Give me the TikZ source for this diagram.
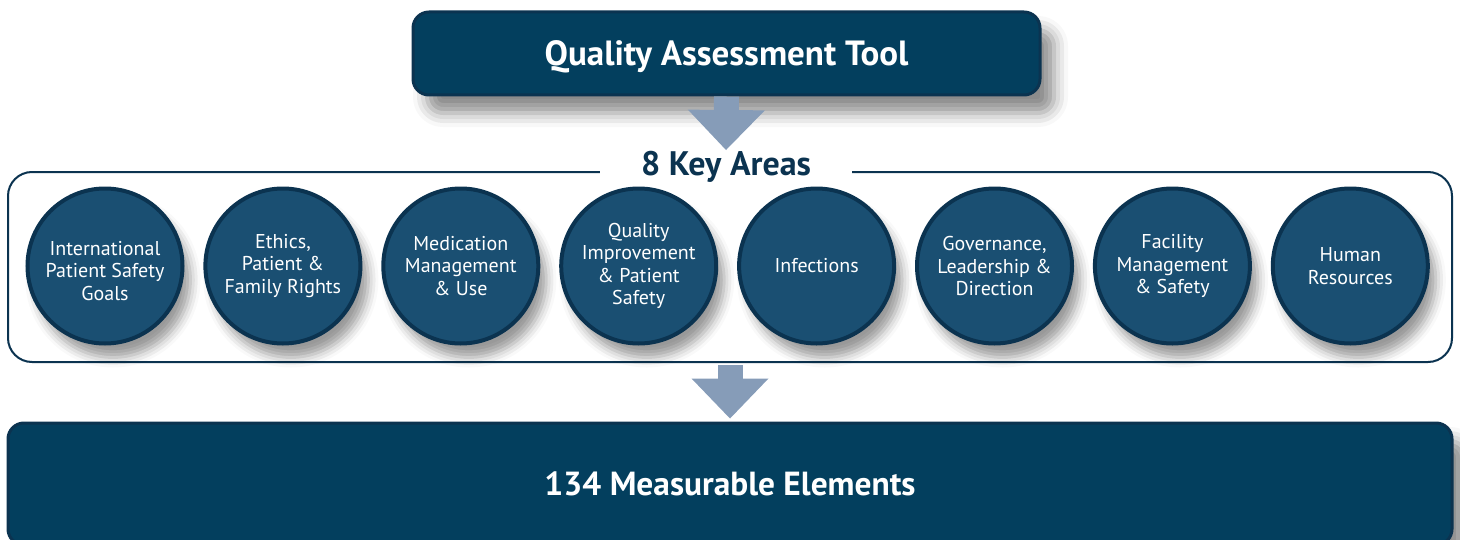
\documentclass[tikz,border=0pt]{standalone}
\usepackage{fontspec}
\setmainfont{PT Sans}
\usetikzlibrary{arrows.meta,shadows.blur}
\definecolor{bleufonce}{HTML}{033F5E}
\definecolor{bleudisque}{HTML}{1A4F72}
\definecolor{bleutrait}{HTML}{0B3350}
\definecolor{bleufleche}{HTML}{869CB8}
% Abaisse un texte dans son noeud
\newcommand\abaisse[2]{\raisebox{-#1}[\dimexpr\height+#1\relax][\dimexpr\depth+#1\relax]{#2}}
\begin{document}
\begin{tikzpicture}[x=0.5pt,y=-0.5pt]
% Styles
\tikzstyle{boite}=[draw=bleutrait,line width=1.5pt,fill=bleufonce,rounded corners=8pt,text=white,font=\bfseries\fontsize{16.7}{18}\selectfont,blur shadow={shadow xshift=7pt,shadow yshift=-9pt,shadow blur radius=7pt,shadow opacity=45}]
\tikzstyle{cadre}=[draw=bleutrait,line width=1pt,rounded corners=12pt]
\tikzstyle{disque}=[circle,draw=bleutrait,line width=2pt,fill=bleudisque,minimum size=77.5pt,inner sep=0pt,text=white,align=center,font=\fontsize{10}{11.25}\selectfont,blur shadow={shadow xshift=4pt,shadow yshift=-7pt,shadow blur radius=5pt,shadow opacity=40}]
\tikzstyle{titre}=[fill=white,minimum width=126pt,text=bleutrait,font=\bfseries\fontsize{17}{19}\selectfont]
\tikzstyle{fleche}=[draw=bleufleche,line width=12.5pt,-{Triangle[width=38.5pt,length=20pt,line width=0pt]}]
% Dimensions
\def\Pas{177.9}
\def\Gauche{105}
\def\Yc{266}
\useasboundingbox (0,0) rectangle (1460,540);
% Boite du haut
\node[boite,minimum width=313.5pt,minimum height=41.5pt,font=\bfseries\fontsize{17.5}{19}\selectfont] (outil) at (726.5,53.5) {\abaisse{1.5pt}{Quality Assessment Tool}};
% Encadrement des domaines
\node[cadre,minimum width=722pt,minimum height=95pt] (domaines) at (730,267) {};
\node[titre] (areas) at (726,167) {8 Key Areas};
% Les 8 domaines
\node[disque] (ipsg) at (\Gauche+0*\Pas,\Yc) {\abaisse{3.5pt}{\begin{tabular}{@{}c@{}}International\\Patient Safety\\Goals\end{tabular}}};
\node[disque] (ethique) at (\Gauche+1*\Pas,\Yc) {Ethics,\\Patient \&\\Family Rights};
\node[disque] (medic) at (\Gauche+2*\Pas,\Yc) {Medication\\Management\\\& Use};
\node[disque] (qualite) at (\Gauche+3*\Pas,\Yc) {Quality\\Improvement\\\& Patient\\Safety};
\node[disque] (infect) at (\Gauche+4*\Pas,\Yc) {Infections};
\node[disque] (gouv) at (\Gauche+5*\Pas,\Yc) {Governance,\\Leadership \&\\Direction};
\node[disque] (install) at (\Gauche+6*\Pas,\Yc) {Facility\\Management\\\& Safety};
\node[disque] (rh) at (\Gauche+7*\Pas,\Yc) {Human\\Resources};
% Boite du bas
\node[boite,minimum width=722pt,minimum height=61pt] (elements) at (730,484) {134 Measurable Elements};
% Fleches
\coordinate (pointe) at (726,150);
\draw[fleche] (outil.south) -- (pointe);
\draw[fleche,shorten <=1pt,shorten >=1.5pt] (domaines.south) -- (elements.north);
\end{tikzpicture}
\end{document}
